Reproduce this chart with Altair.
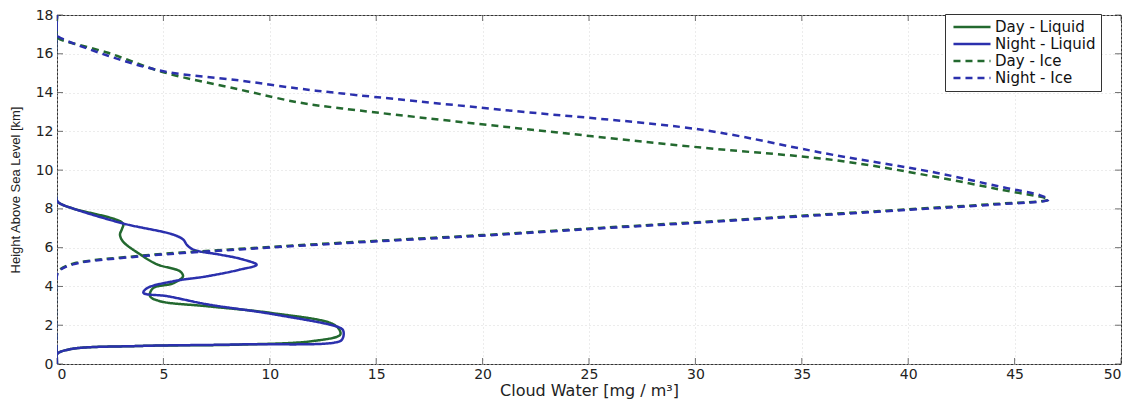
import altair as alt
import pandas as pd

# ---- data ----
series_names = ["Day - Liquid", "Night - Liquid", "Day - Ice", "Night - Ice"]
series_colors = ["#23692f", "#2b30ad", "#23692f", "#2b30ad"]
series_dashes = [[1, 0], [1, 0], [7, 5], [7, 5]]

day_liq_x = [0, 0, 0.6, 3.9, 8.6, 12.0, 13.3, 13.3, 12.97, 10.15, 7.05, 4.84, 4.37, 4.51, 5.45, 5.92,
             5.78, 4.7, 3.9, 3.1, 2.96, 3.05, 3.1, 0.75, 0.14, 0, 0]
day_liq_h = [0, 0.5, 0.76, 0.93, 1.0, 1.18, 1.5, 1.7, 2.06, 2.62, 2.98, 3.24, 3.5, 3.91, 4.16, 4.52,
             4.78, 5.14, 5.66, 6.32, 6.68, 6.95, 7.25, 8.02, 8.28, 8.43, 18]

night_liq_x = [0, 0, 0.61, 3.9, 8.6, 13.3, 13.45, 13.45, 13.3, 10.15, 7.05, 5.17, 4.06, 4.23, 5.47,
               7.03, 8.6, 9.38, 8.6, 7.66, 6.4, 6.1, 5.94, 5.47, 3.1, 0.75, 0.14, 0, 0]
night_liq_h = [0, 0.5, 0.76, 0.93, 1.01, 1.18, 1.39, 1.72, 1.87, 2.57, 3.08, 3.5, 3.67, 3.91, 4.27,
               4.52, 4.87, 5.12, 5.43, 5.64, 5.9, 6.15, 6.41, 6.67, 7.25, 8.02, 8.28, 8.43, 18]

day_ice_x = [0, 0, 0.1, 0.75, 3.9, 8.6, 13.3, 20.0, 25.5, 30.0, 34.9, 40.0, 44.0, 46.6,
             44.3, 41.2, 36.5, 30.3, 21.0, 13.4, 11.4, 8.6, 5.0, 2.4, 0.05, 0, 0]
day_ice_h = [0, 4.62, 4.84, 5.17, 5.58, 5.94, 6.25, 6.65, 7.02, 7.31, 7.64, 7.98, 8.25, 8.48,
             9.0, 9.67, 10.52, 11.16, 12.24, 13.18, 13.48, 14.15, 15.05, 16.05, 16.8, 16.9, 18]

night_ice_x = [0, 0, 0.1, 0.75, 3.9, 8.6, 13.3, 20.0, 25.5, 30.0, 34.9, 40.0, 44.0, 46.6,
               46.2, 44.3, 41.2, 36.5, 34.9, 30.3, 21.0, 13.4, 11.4, 8.6, 5.0, 2.4, 0.05, 0, 0]
night_ice_h = [0, 4.58, 4.8, 5.14, 5.55, 5.91, 6.22, 6.62, 6.99, 7.28, 7.61, 7.95, 8.22, 8.48,
               8.7, 9.15, 9.89, 10.78, 11.12, 12.08, 13.1, 13.95, 14.2, 14.62, 15.1, 15.9, 16.9, 17.0, 18]

x_ticks = [0, 5, 10, 15, 20, 25, 30, 35, 40, 45, 50]
y_ticks = [0, 2, 4, 6, 8, 10, 12, 14, 16, 18]

# ---- build table ----
rows = []
for name, xs, hs in [
    ("Day - Liquid", day_liq_x, day_liq_h),
    ("Night - Liquid", night_liq_x, night_liq_h),
    ("Day - Ice", day_ice_x, day_ice_h),
    ("Night - Ice", night_ice_x, night_ice_h),
]:
    for i, (xv, hv) in enumerate(zip(xs, hs)):
        rows.append({"series": name, "x": xv, "h": hv, "i": i})
df = pd.DataFrame(rows)

W, H = 1064, 349

x_axis = alt.Axis(values=x_ticks, title="Cloud Water [mg / m³]", grid=True, labelOverlap=False,
                  tickSize=0, domain=False, labelPadding=3, titlePadding=1, titleFontSize=16)
y_axis = alt.Axis(values=y_ticks, title="Height Above Sea Level [km]", grid=True, labelOverlap=False,
                  tickSize=0, domain=False, labelPadding=4, titlePadding=13,
                  titleFont="Liberation Sans", titleFontSize=13)
x_scale = alt.Scale(domain=[0, 50], nice=False, zero=False)
y_scale = alt.Scale(domain=[0, 18], nice=False, zero=False)
x_enc = alt.X("x:Q", scale=x_scale, axis=x_axis)
y_enc = alt.Y("h:Q", scale=y_scale, axis=y_axis)

legend_symbol = "M-2.85,0L2.85,0"
color_enc = alt.Color("series:N",
                      scale=alt.Scale(domain=series_names, range=series_colors),
                      legend=alt.Legend(title=None, orient="none", legendX=888, legendY=-1,
                                        symbolType=legend_symbol, symbolSize=169, symbolStrokeWidth=2.5,
                                        labelFont="DejaVu Sans", labelFontSize=15, labelColor="#111",
                                        labelLimit=400, labelOffset=15, rowPadding=1,
                                        padding=5, symbolOffset=14,
                                        fillColor="white", strokeColor="#333"))
dash_enc = alt.StrokeDash("series:N",
                          scale=alt.Scale(domain=series_names, range=series_dashes),
                          legend=None)

layers = []
for name in series_names:
    layers.append(
        alt.Chart(df).transform_filter(alt.datum.series == name)
        .mark_line(strokeWidth=2.5, clip=True, interpolate="catmull-rom")
        .encode(x=x_enc, y=y_enc, color=color_enc, strokeDash=dash_enc,
                order=alt.Order("i:Q"))
    )

xt = pd.DataFrame({"x": x_ticks})
yt = pd.DataFrame({"h": y_ticks})
tick_bottom = alt.Chart(xt).mark_tick(color="#333", thickness=1, size=6).encode(
    x=x_enc, y=alt.value(H - 3))
tick_top = alt.Chart(xt).mark_tick(color="#333", thickness=1, size=6).encode(
    x=x_enc, y=alt.value(3))
tick_left = alt.Chart(yt).mark_tick(color="#333", thickness=1, size=6).encode(
    y=y_enc, x=alt.value(3))
tick_right = alt.Chart(yt).mark_tick(color="#333", thickness=1, size=6).encode(
    y=y_enc, x=alt.value(W - 3))

chart = alt.layer(tick_bottom, tick_top, tick_left, tick_right, *layers).properties(
    width=W, height=H,
    autosize=alt.AutoSizeParams(type="none"),
    padding={"left": 49, "top": 7, "right": 7, "bottom": 38},
).configure_view(
    stroke="#333", strokeWidth=1
).configure_axis(
    labelFont="DejaVu Sans", labelFontSize=14, labelColor="#222",
    titleFont="DejaVu Sans", titleFontWeight="normal", titleColor="#222",
    gridColor="#d9d9d9", gridDash=[1, 3], gridWidth=1
)

chart.save("out.html", embed_options={"renderer": "svg", "actions": False})
